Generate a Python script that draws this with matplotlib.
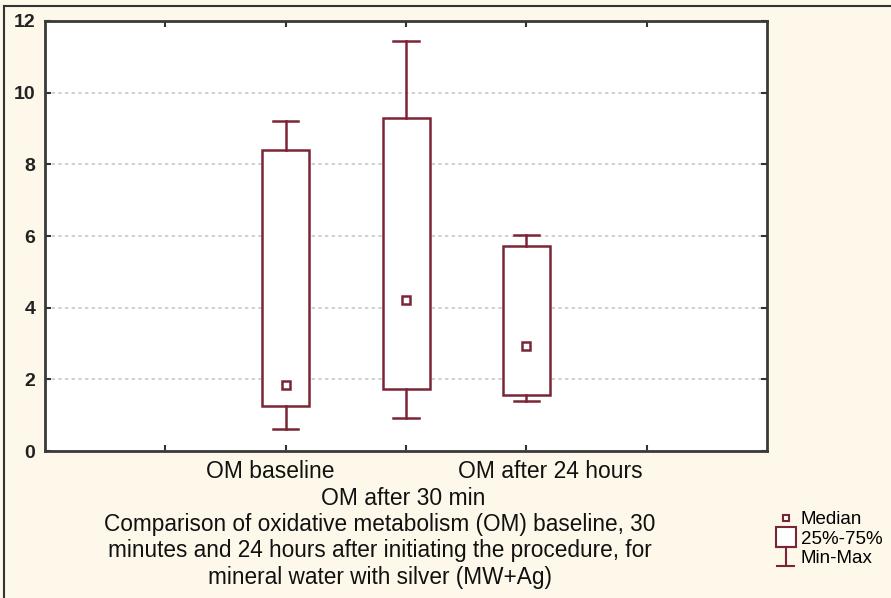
import numpy as np
import matplotlib.pyplot as plt
from matplotlib.lines import Line2D
from matplotlib.legend_handler import HandlerBase

plt.rcParams['font.family'] = ['Liberation Sans', 'DejaVu Sans']

groups = ["OM baseline", "OM after 30 min", "OM after 24 hours"]
positions = [2, 3, 4]
medians = [1.83, 4.22, 2.92]
q1 = [1.25, 1.72, 1.56]
q3 = [8.39, 9.28, 5.72]
mins = [0.61, 0.92, 1.39]
maxs = [9.22, 11.44, 6.03]

maroon = "#7a2535"
cream = "#fdf8e9"
ink = "#111111"

fig = plt.figure(figsize=(8.91, 5.98), dpi=100, facecolor=cream)
ax = fig.add_axes([0.0505, 0.2458, 0.8105, 0.7191])
ax.set_facecolor("white")

stats = []
for lbl, m, a, b, lo, hi in zip(groups, medians, q1, q3, mins, maxs):
    stats.append(dict(label=lbl, med=m, q1=a, q3=b, whislo=lo, whishi=hi, fliers=[]))

ax.bxp(stats, positions=positions, widths=0.39, capwidths=0.21,
       patch_artist=True, showfliers=False,
       boxprops=dict(facecolor="white", edgecolor=maroon, linewidth=1.8),
       whiskerprops=dict(color=maroon, linewidth=1.8),
       capprops=dict(color=maroon, linewidth=1.8),
       medianprops=dict(linestyle="none"), zorder=3)
ax.plot(positions, medians, "s", ms=5.5, mfc="white", mec=maroon, mew=1.8, zorder=4)

ax.set_xlim(0, 6)
ax.set_ylim(0, 12)
ax.set_yticks(range(0, 13, 2))
ax.set_xticks([1, 2, 3, 4, 5])
ax.set_xticklabels([])
ax.tick_params(direction="in", length=4, width=1.5, color="#333333",
               top=True, right=True, pad=7)
for t in ax.get_yticklabels():
    t.set_fontsize(14)
    t.set_fontweight("bold")
    t.set_color("#222222")
for s in ax.spines.values():
    s.set_color("#3a3a3a")
    s.set_linewidth(2)
ax.yaxis.grid(True, linestyle=(0, (2, 2)), color="#c8c8c8", linewidth=1.2, zorder=0)
ax.set_axisbelow(True)

# staggered category labels under the axis
label_x = [1.87, 2.98, 4.2]
label_y = [-0.047, -0.11, -0.047]
for lbl, x, y in zip(groups, label_x, label_y):
    ax.text(x, y, lbl, transform=ax.get_xaxis_transform(), ha="center", va="center",
            fontsize=16.5, color=ink)

title = ("Comparison of oxidative metabolism (OM) baseline, 30\n"
         "minutes and 24 hours after initiating the procedure, for\n"
         "mineral water with silver (MW+Ag)")
fig.text(380 / 891, 1 - 551 / 598, title, ha="center", va="center",
         fontsize=16.3, linespacing=1.2, color=ink)


class IBeamHandler(HandlerBase):
    def create_artists(self, legend, orig, xd, yd, w, h, fs, trans):
        cx = xd + w / 2
        y0, y1 = yd - 2, yd + h + 2
        hw = 6
        return [Line2D([cx, cx], [y0, y1], color=maroon, lw=1.5, transform=trans),
                Line2D([cx - hw, cx + hw], [y0, y0], color=maroon, lw=1.5, transform=trans),
                Line2D([cx - hw, cx + hw], [y1, y1], color=maroon, lw=1.5, transform=trans)]


h_med = Line2D([], [], marker="s", ms=5, mfc="white", mec=maroon, mew=1.5, ls="")
h_box = Line2D([], [], marker="s", ms=14, mfc="white", mec=maroon, mew=1.5, ls="")
h_rng = Line2D([], [])
fig.legend([h_med, h_box, h_rng], ["Median", "25%-75%", "Min-Max"],
           handler_map={h_rng: IBeamHandler()}, loc="center left",
           bbox_to_anchor=(767 / 891, 1 - 539 / 598), frameon=False,
           fontsize=13.5, handlelength=1.0, handletextpad=0.3, labelspacing=0.12,
           borderpad=0)

# outer frame lines
fig.add_artist(Line2D([4 / 891, 4 / 891], [0, 1 - 6 / 598], color="#333333", lw=1.5))
fig.add_artist(Line2D([4 / 891, 1], [1 - 6 / 598, 1 - 6 / 598], color="#333333", lw=1.5))

fig.savefig("out.png", dpi=100, facecolor=cream)
